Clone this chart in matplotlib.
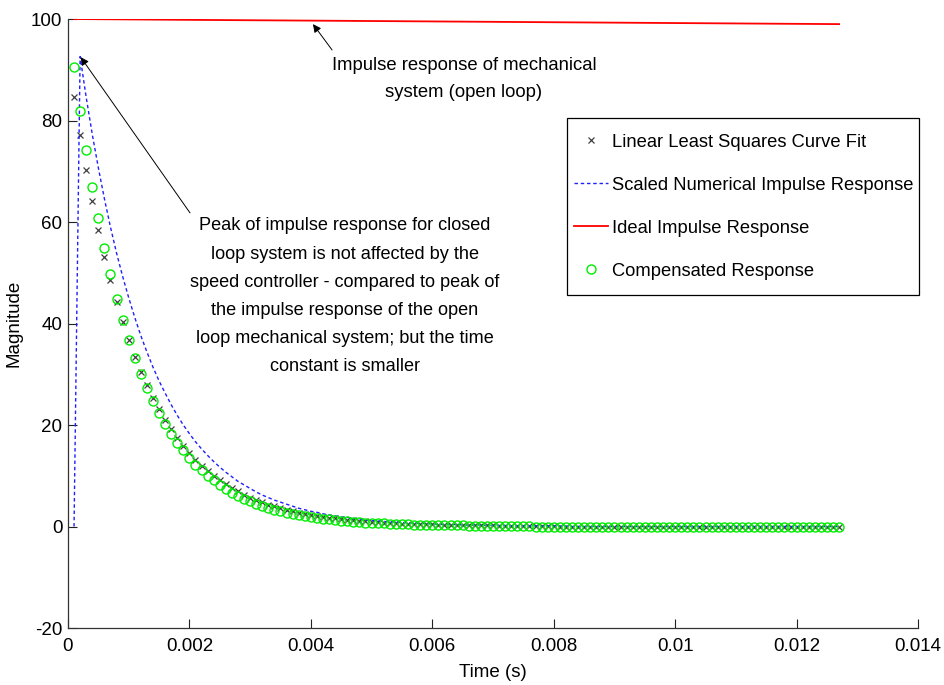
import numpy as np
import matplotlib.pyplot as plt
from matplotlib.patches import Rectangle

# sample grid of the responses: 0.1 ms steps, 127 samples
time_s = np.round(np.arange(1, 128) * 1e-4, 4)

lsq_fit = [
    84.7, 77.2, 70.3, 64.1, 58.4, 53.2, 48.5, 44.2, 40.3, 36.7,
    33.5, 30.5, 27.8, 25.3, 23.1, 21.0, 19.2, 17.5, 15.9, 14.5,
    13.2, 12.0, 11.0, 10.0, 9.1, 8.3, 7.6, 6.9, 6.3, 5.7,
    5.2, 4.8, 4.3, 4.0, 3.6, 3.3, 3.0, 2.7, 2.5, 2.3,
    2.1, 1.9, 1.7, 1.6, 1.4, 1.3, 1.2, 1.1, 1.0, 0.9,
    0.8, 0.7, 0.7, 0.6, 0.5, 0.5, 0.5, 0.4, 0.4, 0.4,
    0.3, 0.3, 0.3, 0.2, 0.2, 0.2, 0.2, 0.2, 0.2, 0.2,
    0.1, 0.1, 0.1, 0.1, 0.1, 0.1, 0.1, 0.1, 0.1, 0.1,
    0.0, 0.0, 0.0, 0.0, 0.0, 0.0, 0.0, 0.0, 0.0, 0.0,
    0.0, 0.0, 0.0, 0.0, 0.0, 0.0, 0.0, 0.0, 0.0, 0.0,
    0.0, 0.0, 0.0, 0.0, 0.0, 0.0, 0.0, 0.0, 0.0, 0.0,
    0.0, 0.0, 0.0, 0.0, 0.0, 0.0, 0.0, 0.0, 0.0, 0.0,
    0.0, 0.0, 0.0, 0.0, 0.0, 0.0, 0.0,
]

scaled_numerical = [
    0.0, 92.6, 84.6, 77.3, 70.7, 64.6, 59.0, 53.9, 49.3, 45.1,
    41.2, 37.6, 34.4, 31.4, 28.7, 26.3, 24.0, 21.9, 20.0, 18.3,
    16.7, 15.3, 14.0, 12.8, 11.7, 10.7, 9.8, 8.9, 8.2, 7.5,
    6.8, 6.2, 5.7, 5.2, 4.8, 4.4, 4.0, 3.6, 3.3, 3.0,
    2.8, 2.5, 2.3, 2.1, 1.9, 1.8, 1.6, 1.5, 1.3, 1.2,
    1.1, 1.0, 0.9, 0.9, 0.8, 0.7, 0.7, 0.6, 0.6, 0.5,
    0.5, 0.4, 0.4, 0.4, 0.3, 0.3, 0.3, 0.3, 0.2, 0.2,
    0.2, 0.2, 0.1, 0.1, 0.1, 0.1, 0.1, 0.1, 0.1, 0.1,
    0.1, 0.1, 0.0, 0.0, 0.0, 0.0, 0.0, 0.0, 0.0, 0.0,
    0.0, 0.0, 0.0, 0.0, 0.0, 0.0, 0.0, 0.0, 0.0, 0.0,
    0.0, 0.0, 0.0, 0.0, 0.0, 0.0, 0.0, 0.0, 0.0, 0.0,
    0.0, 0.0, 0.0, 0.0, 0.0, 0.0, 0.0, 0.0, 0.0, 0.0,
    0.0, 0.0, 0.0, 0.0, 0.0, 0.0, 0.0,
]

compensated = [
    90.5, 81.9, 74.1, 67.0, 60.7, 54.9, 49.7, 44.9, 40.7, 36.8,
    33.3, 30.1, 27.3, 24.7, 22.3, 20.2, 18.3, 16.5, 15.0, 13.5,
    12.2, 11.1, 10.0, 9.1, 8.2, 7.4, 6.7, 6.1, 5.5, 5.0,
    4.5, 4.1, 3.7, 3.3, 3.0, 2.7, 2.5, 2.2, 2.0, 1.8,
    1.7, 1.5, 1.4, 1.2, 1.1, 1.0, 0.9, 0.8, 0.7, 0.7,
    0.6, 0.6, 0.5, 0.5, 0.4, 0.4, 0.3, 0.3, 0.3, 0.2,
    0.2, 0.2, 0.2, 0.2, 0.2, 0.1, 0.1, 0.1, 0.1, 0.1,
    0.1, 0.1, 0.1, 0.1, 0.1, 0.1, 0.0, 0.0, 0.0, 0.0,
    0.0, 0.0, 0.0, 0.0, 0.0, 0.0, 0.0, 0.0, 0.0, 0.0,
    0.0, 0.0, 0.0, 0.0, 0.0, 0.0, 0.0, 0.0, 0.0, 0.0,
    0.0, 0.0, 0.0, 0.0, 0.0, 0.0, 0.0, 0.0, 0.0, 0.0,
    0.0, 0.0, 0.0, 0.0, 0.0, 0.0, 0.0, 0.0, 0.0, 0.0,
    0.0, 0.0, 0.0, 0.0, 0.0, 0.0, 0.0,
]

# open loop (ideal) response, a slow decay
ideal_time = [0.0001, 0.002, 0.004, 0.006, 0.008, 0.010, 0.0127]
ideal = [100.0, 99.84, 99.69, 99.53, 99.37, 99.21, 99.0]

xtick_vals = [0, 0.002, 0.004, 0.006, 0.008, 0.01, 0.012, 0.014]
xtick_text = ['0', '0.002', '0.004', '0.006', '0.008', '0.01', '0.012', '0.014']
ytick_vals = [-20, 0, 20, 40, 60, 80, 100]

plt.rcParams['font.family'] = ['Liberation Sans', 'DejaVu Sans']
plt.rcParams['font.size'] = 13
plt.rcParams['axes.unicode_minus'] = False

fig = plt.figure(figsize=(9.44, 6.85), dpi=100)
ax = fig.add_axes([0.072, 0.0832, 0.9005, 0.889])

h_fit, = ax.plot(time_s, lsq_fit, 'x', color='#404040', ms=5, mew=0.9,
                 linestyle='none', label='Linear Least Squares Curve Fit')
h_num, = ax.plot(time_s, scaled_numerical, color='#1f1fff', lw=1.0,
                 linestyle=(0, (2.5, 2)), label='Scaled Numerical Impulse Response')
h_ideal, = ax.plot(ideal_time, ideal, color='red', lw=1.3,
                   label='Ideal Impulse Response')
h_comp, = ax.plot(time_s, compensated, 'o', mfc='none', mec='#00ee00', ms=6.5,
                  mew=1.0, linestyle='none', label='Compensated Response')

ax.set_xlim(0, 0.014)
ax.set_ylim(-20, 100)
ax.set_xticks(xtick_vals)
ax.set_xticklabels(xtick_text)
ax.set_yticks(ytick_vals)
ax.tick_params(direction='in', length=6.5, width=0.8, colors='#222222',
               labelcolor='black', labelsize=13.5)
ax.tick_params(axis='x', pad=7)
ax.tick_params(axis='y', pad=4)
for side in ['top', 'right']:
    ax.spines[side].set_visible(False)
for side in ['left', 'bottom']:
    ax.spines[side].set_color('#333333')
    ax.spines[side].set_linewidth(0.9)

ax.set_xlabel('Time (s)', fontsize=13.5, labelpad=7)
ax.set_ylabel('Magnitude', fontsize=13.5, labelpad=6)

# legend frame drawn separately so the padding can match
ax.add_patch(Rectangle((0.587, 0.547), 0.414, 0.29, transform=ax.transAxes,
                       facecolor='white', edgecolor='black', lw=0.9,
                       zorder=4, clip_on=False))
leg = ax.legend(handles=[h_fit, h_num, h_ideal, h_comp], loc='upper left',
                bbox_to_anchor=(0.595, 0.812), borderaxespad=0, borderpad=0,
                fontsize=13.2, frameon=False, labelspacing=1.42,
                handlelength=1.85, handletextpad=0.25)
leg.set_zorder(5)

arrow = dict(arrowstyle='-|>', color='black', lw=0.7, mutation_scale=12,
             shrinkA=0, shrinkB=0)
ax.annotate('', xy=(0.000209, 92.5), xytext=(0.00201, 61.8), arrowprops=arrow)
ax.annotate('', xy=(0.004035, 99.0), xytext=(0.00435, 93.9), arrowprops=arrow)

ax.text(0.00456, 45.4,
        'Peak of impulse response for closed\n'
        'loop system is not affected by the\n'
        'speed controller - compared to peak of\n'
        'the impulse response of the open\n'
        'loop mechanical system; but the time\n'
        'constant is smaller',
        ha='center', va='center', fontsize=13.1, linespacing=1.85)
ax.text(0.00652, 88.2, 'Impulse response of mechanical\nsystem (open loop)',
        ha='center', va='center', fontsize=13.3, linespacing=1.75)

fig.savefig('out.png', dpi=100)
